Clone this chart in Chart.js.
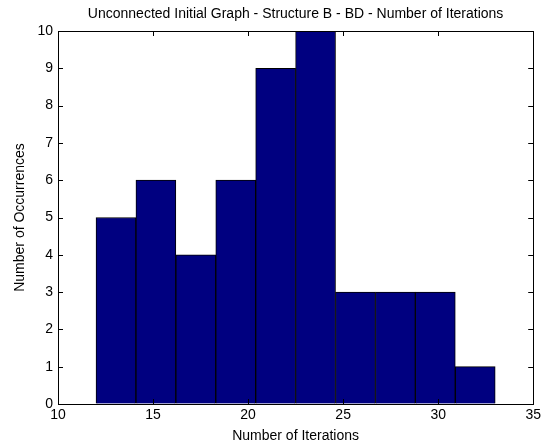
<!DOCTYPE html>
<html>
<head>
<meta charset="utf-8">
<script src="https://cdn.jsdelivr.net/npm/chart.js@4"></script>
<style>
  html, body { margin: 0; padding: 0; background: #fff; }
  #wrap { width: 544px; height: 446px; }
</style>
</head>
<body>
<div id="wrap"><canvas id="histChart"></canvas></div>
<script>
// histogram bins (centers of 10 equal bins between 12 and 33) and counts
var binCenters = [13.05, 15.15, 17.25, 19.35, 21.45, 23.55, 25.65, 27.75, 29.85, 31.95];
var counts = [5, 6, 4, 6, 9, 10, 3, 3, 3, 1];
var xTicks = [10, 15, 20, 25, 30, 35];
var yTicks = [0, 1, 2, 3, 4, 5, 6, 7, 8, 9, 10];

var fontFamily = '"Liberation Sans", Arial, sans-serif';

// matlab style box with inward ticks on all four sides
var boxTicks = {
  id: 'boxTicks',
  afterDraw: function(chart) {
    var c = chart.ctx, a = chart.chartArea;
    var xs = chart.scales.x, ys = chart.scales.y;
    var len = 5;
    c.save();
    c.strokeStyle = '#000';
    c.lineWidth = 1;
    c.beginPath();
    c.rect(Math.round(a.left) + 0.5, Math.round(a.top) + 0.5,
           Math.round(a.right - a.left), Math.round(a.bottom - a.top));
    xTicks.forEach(function(v) {
      var px = Math.round(xs.getPixelForValue(v)) + 0.5;
      c.moveTo(px, a.bottom); c.lineTo(px, a.bottom - len);
      c.moveTo(px, a.top); c.lineTo(px, a.top + len);
    });
    yTicks.forEach(function(v) {
      var py = Math.round(ys.getPixelForValue(v)) + 0.5;
      c.moveTo(a.left, py); c.lineTo(a.left + len, py);
      c.moveTo(a.right, py); c.lineTo(a.right - len, py);
    });
    c.stroke();
    c.restore();
  }
};

var ctx = document.getElementById('histChart').getContext('2d');
var histChart = new Chart(ctx, {
  type: 'bar',
  data: {
    datasets: [{
      data: binCenters.map(function(x, i) { return { x: x, y: counts[i] }; }),
      backgroundColor: '#000080',
      borderColor: '#000000',
      borderWidth: 1,
      barPercentage: 1,
      categoryPercentage: 1
    }]
  },
  options: {
    responsive: true,
    maintainAspectRatio: false,
    animation: false,
    events: [],
    layout: { padding: { left: 0, right: 9, top: 0, bottom: 0 } },
    plugins: {
      legend: { display: false },
      tooltip: { enabled: false },
      title: {
        display: true,
        fullSize: false,
        text: 'Unconnected Initial Graph - Structure B - BD - Number of Iterations',
        color: '#000',
        font: { family: fontFamily, size: 14, weight: 'normal' },
        padding: { top: 5.6, bottom: 8.6 }
      }
    },
    scales: {
      x: {
        type: 'linear',
        min: 10,
        max: 35,
        offset: false,
        afterFit: function(s) { s.height = 42; },
        afterBuildTicks: function(s) { s.ticks = xTicks.map(function(v) { return { value: v }; }); },
        grid: { drawOnChartArea: false, drawTicks: false, offset: false },
        border: { display: true, color: '#000' },
        ticks: { color: '#000', padding: 3, maxRotation: 0, font: { family: fontFamily, size: 14 } },
        title: {
          display: true,
          text: 'Number of Iterations',
          color: '#000',
          font: { family: fontFamily, size: 14 },
          padding: { top: 0, bottom: 1.6 }
        }
      },
      y: {
        min: 0,
        max: 10,
        afterFit: function(s) { s.width = 58; },
        afterBuildTicks: function(s) { s.ticks = yTicks.map(function(v) { return { value: v }; }); },
        grid: { drawOnChartArea: false, drawTicks: false },
        border: { display: true, color: '#000' },
        ticks: { color: '#000', padding: 5, font: { family: fontFamily, size: 14 } },
        title: {
          display: true,
          text: 'Number of Occurrences',
          color: '#000',
          font: { family: fontFamily, size: 14 },
          padding: { top: 11.6, bottom: 0 }
        }
      }
    }
  },
  plugins: [boxTicks]
});
</script>
</body>
</html>
